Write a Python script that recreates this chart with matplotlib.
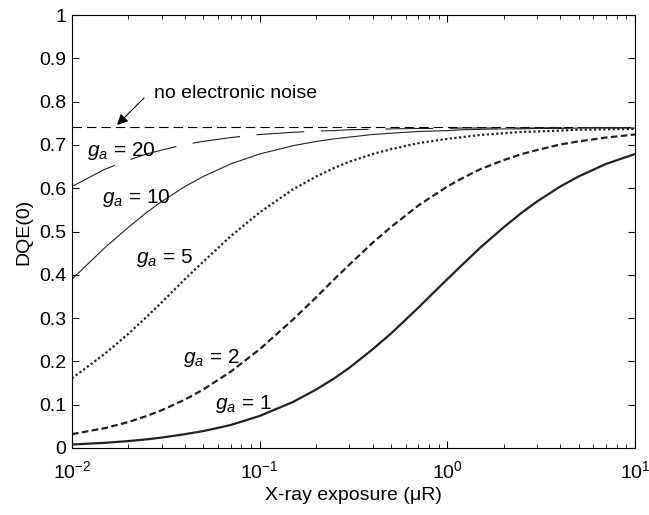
import matplotlib
matplotlib.use("Agg")
import matplotlib.pyplot as plt

plt.rcParams['font.family'] = ['Liberation Sans', 'DejaVu Sans']
plt.rcParams['mathtext.fontset'] = 'custom'
plt.rcParams['mathtext.rm'] = 'Liberation Sans'
plt.rcParams['mathtext.it'] = 'Liberation Sans:italic'

exposure = [0.01, 0.015, 0.02, 0.025, 0.03, 0.04, 0.05, 0.07, 0.1, 0.15, 0.2, 0.25,
            0.3, 0.4, 0.5, 0.7, 1, 1.2, 1.5, 2, 2.5, 3, 4, 5, 7, 10]
dqe_g1 = [0.008, 0.012, 0.016, 0.020, 0.024, 0.032, 0.039, 0.053, 0.074, 0.106, 0.135,
          0.161, 0.185, 0.228, 0.264, 0.324, 0.390, 0.423, 0.463, 0.510, 0.544, 0.569,
          0.604, 0.627, 0.656, 0.679]
dqe_g2 = [0.032, 0.046, 0.060, 0.074, 0.087, 0.112, 0.135, 0.176, 0.228, 0.296, 0.348,
          0.390, 0.423, 0.474, 0.510, 0.560, 0.604, 0.623, 0.644, 0.665, 0.679, 0.688,
          0.701, 0.708, 0.717, 0.724]
dqe_g5 = [0.161, 0.218, 0.264, 0.303, 0.336, 0.390, 0.430, 0.489, 0.544, 0.597, 0.627,
          0.647, 0.661, 0.679, 0.690, 0.704, 0.714, 0.718, 0.723, 0.727, 0.730, 0.731,
          0.733, 0.735, 0.736, 0.737]
dqe_g10 = [0.390, 0.463, 0.510, 0.544, 0.569, 0.604, 0.627, 0.656, 0.679, 0.698, 0.708,
           0.714, 0.718, 0.724, 0.727, 0.731, 0.733, 0.735, 0.736, 0.737, 0.737, 0.738,
           0.738, 0.739, 0.739, 0.739]
dqe_g20 = [0.604, 0.644, 0.665, 0.679, 0.688, 0.701, 0.708, 0.717, 0.724, 0.729, 0.732,
           0.733, 0.735, 0.736, 0.737, 0.738, 0.738, 0.739, 0.739, 0.739, 0.739, 0.739,
           0.740, 0.740, 0.740, 0.740]
no_noise_level = 0.742
xlim = [1e-2, 1e1]
yticks = [0, 0.1, 0.2, 0.3, 0.4, 0.5, 0.6, 0.7, 0.8, 0.9, 1]
ytick_labels = ['0', '0.1', '0.2', '0.3', '0.4', '0.5', '0.6', '0.7', '0.8', '0.9', '1']

fig = plt.figure(figsize=(6.49, 5.15), dpi=100)
ax = fig.add_axes([72/649, 1-448/515, (635-72)/649, (448-15)/515])

common = dict(solid_joinstyle='round', dash_joinstyle='round')
ax.plot(xlim, [no_noise_level, no_noise_level], color='black', lw=0.8,
        dashes=(8.5, 4.5))
ax.plot(exposure, dqe_g20, color='#222222', lw=0.8, dashes=(43, 15), **common)
ax.plot(exposure, dqe_g10, color='#222222', lw=0.8, **common)
ax.plot(exposure, dqe_g5, color='#222222', lw=1.6, linestyle=(0, (1, 1.1)), **common)
ax.plot(exposure, dqe_g2, color='#222222', lw=1.6, dashes=(3, 1.5), **common)
ax.plot(exposure, dqe_g1, color='#222222', lw=1.6, **common)

ax.set_xscale('log')
ax.set_xlim(xlim)
ax.set_ylim(0, 1)
ax.set_yticks(yticks)
ax.set_yticklabels(ytick_labels)
ax.tick_params(which='both', direction='in', top=True, right=True,
               labelsize=14)
ax.tick_params(axis='x', which='both', pad=9)
ax.tick_params(axis='y', which='both', pad=4)
ax.tick_params(which='major', length=5)
ax.tick_params(which='minor', length=3)
for s in ax.spines.values():
    s.set_linewidth(0.8)

ax.set_xlabel('X-ray exposure (\u03bcR)', fontsize=14, labelpad=3)
ax.set_ylabel('DQE(0)', fontsize=14, labelpad=5)

lab_fs = 15
def pix(px, py):
    return (px/649, 1 - py/515)

fig.text(*pix(87, 151), r'$\it{g}_{\it{a}}$ = 20', fontsize=lab_fs, va='center', ha='left')
fig.text(*pix(102, 198), r'$\it{g}_{\it{a}}$ = 10', fontsize=lab_fs, va='center', ha='left')
fig.text(*pix(136, 258), r'$\it{g}_{\it{a}}$ = 5', fontsize=lab_fs, va='center', ha='left')
fig.text(*pix(183, 358), r'$\it{g}_{\it{a}}$ = 2', fontsize=lab_fs, va='center', ha='left')
fig.text(*pix(215, 404), r'$\it{g}_{\it{a}}$ = 1', fontsize=lab_fs, va='center', ha='left')

fig.text(*pix(154, 94), 'no electronic noise', fontsize=14, va='center', ha='left')
ax.annotate('', xy=pix(117, 125), xycoords='figure fraction',
            xytext=pix(144, 98), textcoords='figure fraction',
            arrowprops=dict(arrowstyle='-|>', color='black', lw=0.8,
                            shrinkA=0, shrinkB=0, mutation_scale=16))

fig.savefig('out.png', dpi=100)
